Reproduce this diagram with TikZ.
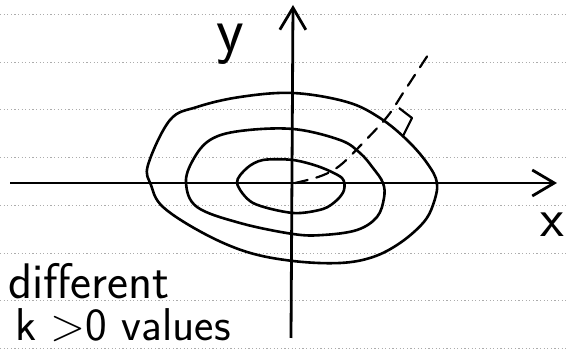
\documentclass[tikz,border=0pt]{standalone}
\usetikzlibrary{
    arrows.meta,
    positioning
}
\tikzset{
    % --- Ruled line of the note paper (light dotted) ---
    ruled line/.style = {
        gray!65, line width=0.8pt,
        dash pattern=on 1.2pt off 2.4pt
    },
    % --- Coordinate axis with open arrow head ---
    axis line/.style = {
        line width=2.8pt,
        -{Straight Barb[length=22pt, width=26pt]}
    },
    % --- Level curve f(x,y) = k ---
    level curve/.style = {
        line width=2.6pt, line join=round
    },
    % --- Dashed direction line ---
    grad line/.style = {
        line width=2.2pt, line cap=round,
        dash pattern=on 13pt off 9pt
    },
    % --- Right angle mark ---
    perp mark/.style = {
        line width=2.2pt, line join=round
    },
    % --- Hand lettering ---
    hand label/.style = {
        font=\sffamily, inner sep=0pt
    }
}

\begin{document}
\begin{tikzpicture}[x=1pt, y=-1pt]

\useasboundingbox (0,0) rectangle (566,352);

% ---------------------------------------------------------
% Ruled paper
% ---------------------------------------------------------
\draw[ruled line] (0,14) -- (566,14);
\draw[ruled line] (0,62) -- (566,62);
\draw[ruled line] (0,109) -- (566,109);
\draw[ruled line] (0,157) -- (566,157);
\draw[ruled line] (0,205) -- (566,205);
\draw[ruled line] (0,253) -- (566,253);
\draw[ruled line] (0,300) -- (566,300);
\draw[ruled line] (0,348) -- (566,348);

% ---------------------------------------------------------
% Level curves (outer, middle, inner)
% ---------------------------------------------------------
\draw[level curve] plot[smooth cycle, tension=0.6] coordinates {
    (293,93) (347,102) (380,118) (407,140) (427,163) (437,183)
    (433,205) (423,223) (400,243) (373,257) (340,263) (293,261)
    (247,252) (203,233) (163,207) (151,185) (148,165) (170,120)
    (197,107) (240,97)};

\draw[level curve] plot[smooth cycle, tension=0.6] coordinates {
    (293,129) (340,140) (360,153) (373,168) (383,183) (384,198)
    (377,217) (357,230) (323,235) (293,234) (240,223) (197,207)
    (186,183) (193,160) (210,140) (240,131)};

\draw[level curve] plot[smooth cycle, tension=0.5] coordinates {
    (293,160) (320,167) (342,178) (344,190) (337,200) (323,209)
    (293,213) (253,203) (237,183) (247,168) (263,160)};

% ---------------------------------------------------------
% Dashed line and right angle mark
% ---------------------------------------------------------
\coordinate (Orig) at (295,183);
\coordinate (GradEnd) at (428,55);
\draw[grad line] plot[smooth, tension=0.6] coordinates {
    (Orig) (315,178) (330,172) (343,163) (360,146) (387,117)
    (405,90) (GradEnd)};

\coordinate (PerpA) at (399,108);
\coordinate (PerpB) at (412,118);
\coordinate (PerpC) at (403,136);
\draw[perp mark] (PerpA) -- (PerpB) -- (PerpC);

% ---------------------------------------------------------
% Axes
% ---------------------------------------------------------
\coordinate (XStart) at (10,183);
\coordinate (XEnd) at (557,183);
\coordinate (YStart) at (291,338);
\coordinate (YEnd) at (293,5);

\draw[axis line] (XStart) -- (XEnd);
\draw[axis line] (YStart) -- (YEnd);

% axis names
\node[hand label, font=\sffamily\fontsize{64}{64}\selectfont, anchor=base]
    (YLab) at (230,52) {y};
\node[hand label, font=\sffamily\fontsize{55}{55}\selectfont, anchor=base]
    (XLab) at (552,237) {x};

% ---------------------------------------------------------
% Note
% ---------------------------------------------------------
\node[hand label, font=\sffamily\fontsize{50}{50}\selectfont, anchor=base west]
    (NoteA) at (8,299) {different};
\node[hand label, font=\sffamily\fontsize{46}{46}\selectfont, anchor=base west]
    (NoteB) at (15,341) {k >0 values};

\end{tikzpicture}
\end{document}
